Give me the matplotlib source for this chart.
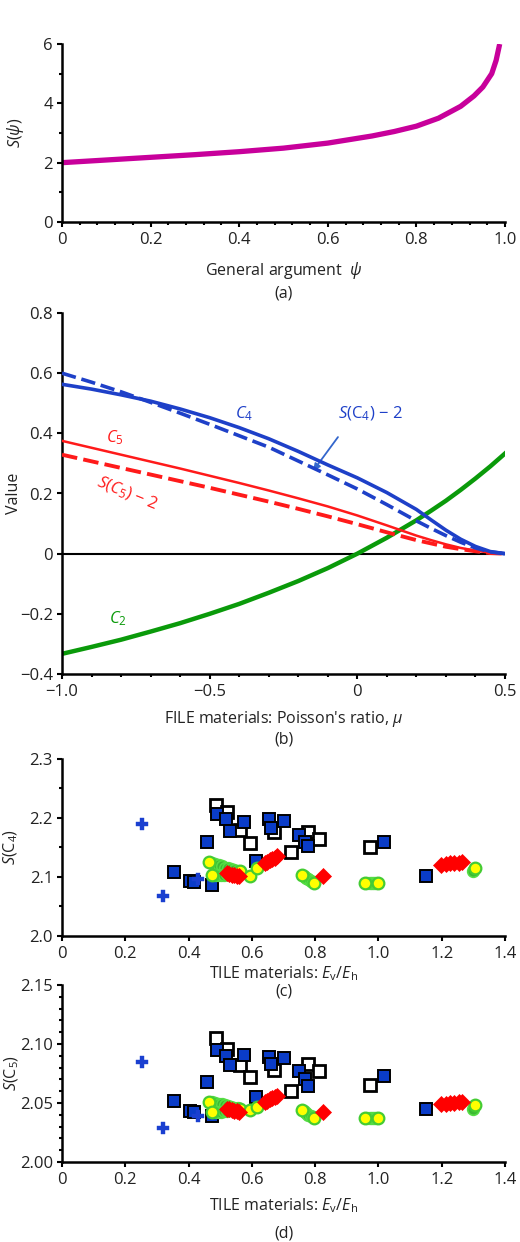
import matplotlib
matplotlib.use("Agg")
import matplotlib.pyplot as plt
from matplotlib.ticker import MultipleLocator

plt.rcParams['font.family'] = ['Open Sans', 'DejaVu Sans']
plt.rcParams['mathtext.fontset'] = 'custom'
plt.rcParams['mathtext.rm'] = 'Open Sans'
plt.rcParams['mathtext.it'] = 'Open Sans:italic'
plt.rcParams['mathtext.bf'] = 'Open Sans:bold'
plt.rcParams['font.size'] = 11.5

# ---------------- Panel (a) data ----------------
psi = [0, 0.1, 0.2, 0.3, 0.4, 0.5, 0.6, 0.7, 0.75, 0.8, 0.85, 0.9, 0.93, 0.95, 0.97, 0.98, 0.988]
S_psi = [2.0, 2.09, 2.18, 2.27, 2.37, 2.49, 2.66, 2.9, 3.05, 3.23, 3.5, 3.9, 4.25, 4.55, 5.0, 5.45, 6.0]
a_xticks = [0, 0.2, 0.4, 0.6, 0.8, 1.0]
a_xticklabels = ['0', '0.2', '0.4', '0.6', '0.8', '1.0']
a_yticks = [0, 2, 4, 6]
a_yticklabels = ['0', '2', '4', '6']

# ---------------- Panel (b) data ----------------
mu = [-1.0, -0.9, -0.8, -0.7, -0.6, -0.5, -0.4, -0.3, -0.2, -0.1, 0.0, 0.1, 0.2, 0.25, 0.3, 0.35, 0.4, 0.45, 0.5]
C4 = [0.563, 0.547, 0.528, 0.507, 0.481, 0.452, 0.419, 0.382, 0.340, 0.295, 0.252, 0.203, 0.147, 0.112, 0.078, 0.048, 0.024, 0.007, 0.0]
SC4m2 = [0.600, 0.570, 0.538, 0.503, 0.467, 0.430, 0.392, 0.354, 0.308, 0.262, 0.215, 0.163, 0.109, 0.084, 0.060, 0.038, 0.019, 0.006, 0.0]
C5 = [0.375, 0.352, 0.329, 0.306, 0.283, 0.259, 0.235, 0.210, 0.184, 0.157, 0.127, 0.094, 0.060, 0.045, 0.031, 0.019, 0.010, 0.003, 0.0]
SC5m2 = [0.329, 0.307, 0.285, 0.263, 0.241, 0.219, 0.196, 0.173, 0.149, 0.124, 0.098, 0.071, 0.045, 0.034, 0.023, 0.015, 0.008, 0.002, 0.0]
C2 = [-0.333, -0.310, -0.286, -0.259, -0.231, -0.200, -0.167, -0.130, -0.091, -0.048, 0.0, 0.053, 0.111, 0.143, 0.176, 0.212, 0.250, 0.290, 0.333]
b_xticks = [-1.0, -0.5, 0, 0.5]
b_xticklabels = ['\u22121.0', '\u22120.5', '0', '0.5']
b_yticks = [-0.4, -0.2, 0, 0.2, 0.4, 0.6, 0.8]
b_yticklabels = ['\u22120.4', '\u22120.2', '0', '0.2', '0.4', '0.6', '0.8']

# ---------------- Panels (c), (d) data ----------------
plus_x = [0.252, 0.320, 0.431]
plus_c = [2.189, 2.068, 2.096]
plus_d = [2.085, 2.029, 2.039]

sqf_x = [0.353, 0.406, 0.416, 0.475, 0.458, 0.491, 0.517, 0.530, 0.576, 0.613, 0.654, 0.660, 0.701,
         0.749, 0.768, 0.778, 1.019, 1.149]
sqf_c = [2.108, 2.093, 2.092, 2.086, 2.159, 2.207, 2.198, 2.178, 2.194, 2.127, 2.198, 2.183, 2.195,
         2.171, 2.160, 2.153, 2.160, 2.102]
sqf_d = [2.052, 2.043, 2.042, 2.039, 2.068, 2.095, 2.090, 2.082, 2.091, 2.055, 2.089, 2.083, 2.088,
         2.077, 2.070, 2.064, 2.073, 2.045]

sqo_x = [0.487, 0.521, 0.564, 0.595, 0.670, 0.724, 0.778, 0.813, 0.972]
sqo_c = [2.222, 2.210, 2.180, 2.158, 2.177, 2.143, 2.176, 2.164, 2.151]
sqo_d = [2.105, 2.096, 2.082, 2.072, 2.078, 2.060, 2.083, 2.077, 2.065]

grn_x = [0.475, 0.485, 0.495, 0.505, 0.515, 0.525, 0.535, 0.545, 0.555,
         0.483, 0.493, 0.503, 0.513, 0.523,
         0.765, 0.772, 0.779, 0.786, 0.793,
         0.965, 0.972, 0.979, 0.986, 0.993,
         1.298]
grn_c = [2.124, 2.122, 2.120, 2.118, 2.116, 2.115, 2.113, 2.112, 2.111,
         2.103, 2.103, 2.104, 2.104, 2.105,
         2.101, 2.099, 2.096, 2.094, 2.092,
         2.089, 2.089, 2.089, 2.089, 2.089,
         2.110]
grn_d = [2.0505, 2.050, 2.0495, 2.049, 2.048, 2.0475, 2.047, 2.046, 2.0455,
         2.042, 2.042, 2.0425, 2.043, 2.043,
         2.043, 2.0415, 2.040, 2.039, 2.038,
         2.0377, 2.0377, 2.0377, 2.0377, 2.0377,
         2.045]

yel_x = [0.465, 0.473, 0.564, 0.594, 0.615, 0.757, 0.797, 0.958, 1.000, 1.305]
yel_c = [2.126, 2.103, 2.111, 2.102, 2.115, 2.104, 2.090, 2.089, 2.089, 2.116]
yel_d = [2.051, 2.042, 2.045, 2.044, 2.047, 2.044, 2.0375, 2.0377, 2.0377, 2.0486]

dia_x = [0.520, 0.528, 0.536, 0.544, 0.552, 0.560,
         0.640, 0.648, 0.656, 0.664, 0.672, 0.680,
         0.824,
         1.198, 1.212, 1.226, 1.240, 1.254, 1.264]
dia_c = [2.106, 2.105, 2.104, 2.103, 2.102, 2.101,
         2.123, 2.126, 2.128, 2.131, 2.133, 2.136,
         2.102,
         2.121, 2.122, 2.123, 2.123, 2.124, 2.125]
dia_d = [2.045, 2.0445, 2.044, 2.0435, 2.043, 2.0425,
         2.051, 2.052, 2.053, 2.054, 2.055, 2.056,
         2.0425,
         2.049, 2.0495, 2.050, 2.050, 2.0505, 2.051]

cd_xticks = [0, 0.2, 0.4, 0.6, 0.8, 1.0, 1.2, 1.4]
cd_xticklabels = ['0', '0.2', '0.4', '0.6', '0.8', '1.0', '1.2', '1.4']
c_yticks = [2.0, 2.1, 2.2, 2.3]
c_yticklabels = ['2.0', '2.1', '2.2', '2.3']
d_yticks = [2.00, 2.05, 2.10, 2.15]
d_yticklabels = ['2.00', '2.05', '2.10', '2.15']

# ---------------- Figure ----------------
W, H = 520, 1242
L, R = 62, 505
fig = plt.figure(figsize=(W / 100, H / 100), dpi=100)


def make_axes(top_px, bot_px, left_px=L, right_px=R):
    return fig.add_axes([left_px / W, 1 - bot_px / H, (right_px - left_px) / W, (bot_px - top_px) / H])


def style(ax, ylab_px):
    for s in ['top', 'right']:
        ax.spines[s].set_visible(False)
    for s in ['left', 'bottom']:
        ax.spines[s].set_linewidth(1.8)
    ax.tick_params(which='major', direction='out', length=3.5, width=1.5, colors='black',
                   labelsize=12, labelcolor='#222222')
    ax.tick_params(which='minor', direction='out', length=2.5, width=1.5)
    ax.tick_params(axis='x', pad=4)
    ax.tick_params(axis='y', pad=3)
    ax.yaxis.set_label_coords((ylab_px - L) / (R - L), 0.5)
    ax.yaxis.label.set_verticalalignment('center')


txt = '#222222'

# (a)
axa = make_axes(44, 222)
axa.plot(psi, S_psi, color='#C8009B', lw=3.8, solid_capstyle='butt')
axa.set_xlim(0, 1.0)
axa.set_ylim(0, 6)
axa.set_xticks(a_xticks)
axa.set_xticklabels(a_xticklabels)
axa.set_yticks(a_yticks)
axa.set_yticklabels(a_yticklabels)
axa.xaxis.set_minor_locator(MultipleLocator(0.04))
axa.yaxis.set_minor_locator(MultipleLocator(1))
axa.set_xlabel(r'General argument  $\psi$', color=txt, labelpad=8)
axa.set_ylabel(r'$S$($\psi$)', color=txt, fontsize=11.5)
style(axa, 15)
fig.text(284 / W, 1 - 294 / H, '(a)', ha='center', va='center', color=txt)

# (b)
axb = make_axes(313, 674)
axb.axhline(0, color='black', lw=1.5, zorder=1)
axb.plot(mu, C2, color='#0A9A0A', lw=3.2, zorder=2)
axb.plot(mu, C5, color='#FF1A1A', lw=1.8, zorder=3)
axb.plot(mu, SC5m2, color='#FF1A1A', lw=2.8, ls=(0, (4, 1.6)), zorder=3)
axb.plot(mu, SC4m2, color='#1E40C8', lw=2.6, ls=(0, (4, 1.6)), zorder=4)
axb.plot(mu, C4, color='#1E40C8', lw=2.6, zorder=4)
axb.set_xlim(-1.0, 0.5)
axb.set_ylim(-0.4, 0.8)
axb.set_xticks(b_xticks)
axb.set_xticklabels(b_xticklabels)
axb.set_yticks(b_yticks)
axb.set_yticklabels(b_yticklabels)
axb.xaxis.set_minor_locator(MultipleLocator(0.1))
axb.set_xlabel(r"FILE materials: Poisson's ratio, $\mu$", color=txt, labelpad=6)
axb.set_ylabel('Value', color=txt)
style(axb, 14)
axb.text(-0.385, 0.465, r'$C_4$', color='#1E40C8', ha='center', va='center', fontsize=12)
axb.text(0.045, 0.465, r'$S$(C$_4$) − 2', color='#1E40C8', ha='center', va='center', fontsize=12)
axb.annotate('', xy=(-0.155, 0.268), xytext=(-0.06, 0.395),
             arrowprops=dict(arrowstyle='-|>', color='#3366CC', lw=1.3, mutation_scale=10))
axb.text(-0.82, 0.385, r'$C_5$', color='#FF1A1A', ha='center', va='center', fontsize=12)
axb.text(-0.78, 0.2, r'$S$($C_5$) − 2', color='#FF1A1A', ha='center', va='center', fontsize=12,
         rotation=-22)
axb.text(-0.81, -0.215, r'$C_2$', color='#0A9A0A', ha='center', va='center', fontsize=12)
fig.text(284 / W, 1 - 739 / H, '(b)', ha='center', va='center', color=txt)


def scatter_panel(ax, yplus, ysqf, ysqo, ygrn, yyel, ydia):
    ax.plot(sqo_x, ysqo, ls='none', marker='s', ms=8, mfc='white', mec='black', mew=2.0, zorder=3)
    ax.plot(sqf_x, ysqf, ls='none', marker='s', ms=8, mfc='#0A3CC8', mec='black', mew=1.4, zorder=3)
    ax.plot(grn_x, ygrn, ls='none', marker='o', ms=8.4, mfc='#3CB832', mec='#55DD44', mew=1.2, zorder=4)
    ax.plot(yel_x, yyel, ls='none', marker='o', ms=8.4, mfc='#FFFF00', mec='#44CC33', mew=1.6, zorder=5)
    ax.plot(dia_x, ydia, ls='none', marker='D', ms=8.5, mfc='#FF0000', mec='#FF0000', mew=0.5, zorder=6)
    ax.plot(plus_x, yplus, ls='none', marker='P', ms=8.5, mfc='#1A3FD0', mec='#1A3FD0', mew=0.3, zorder=7)


# (c)
axc = make_axes(759, 936)
scatter_panel(axc, plus_c, sqf_c, sqo_c, grn_c, yel_c, dia_c)
axc.set_xlim(0, 1.4)
axc.set_ylim(2.0, 2.3)
axc.set_xticks(cd_xticks)
axc.set_xticklabels(cd_xticklabels)
axc.set_yticks(c_yticks)
axc.set_yticklabels(c_yticklabels)
axc.yaxis.set_minor_locator(MultipleLocator(0.05))
axc.set_xlabel(r'TILE materials: $E_{\rm v}$/$E_{\rm h}$', color=txt, labelpad=1)
axc.set_ylabel(r'$S$(C$_4$)', color=txt)
style(axc, 11)
fig.text(284 / W, 1 - 992 / H, '(c)', ha='center', va='center', color=txt)

# (d)
axd = make_axes(985, 1162)
scatter_panel(axd, plus_d, sqf_d, sqo_d, grn_d, yel_d, dia_d)
axd.set_xlim(0, 1.4)
axd.set_ylim(2.0, 2.15)
axd.set_xticks(cd_xticks)
axd.set_xticklabels(cd_xticklabels)
axd.set_yticks(d_yticks)
axd.set_yticklabels(d_yticklabels)
axd.yaxis.set_minor_locator(MultipleLocator(0.01))
axd.set_xlabel(r'TILE materials: $E_{\rm v}$/$E_{\rm h}$', color=txt, labelpad=6)
axd.set_ylabel(r'$S$(C$_5$)', color=txt)
style(axd, 12)
fig.text(284 / W, 1 - 1233 / H, '(d)', ha='center', va='center', color=txt)

fig.savefig('out.png', dpi=100)
